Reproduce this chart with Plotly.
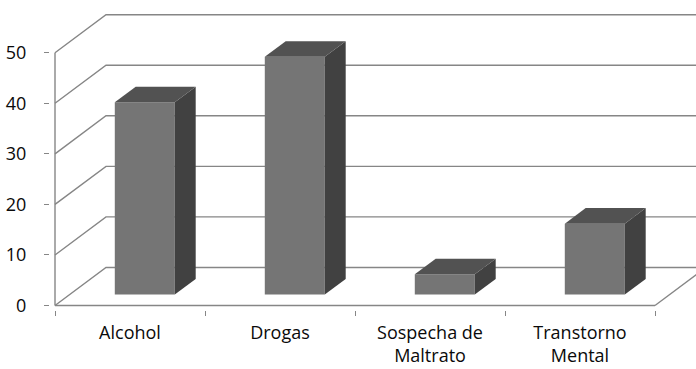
import plotly.graph_objects as go

# ---- data ----
categories = ["Alcohol", "Drogas", "Sospecha de<br>Maltrato", "Transtorno<br>Mental"]
values = [38, 47, 4, 14]
y_ticks = [0, 10, 20, 30, 40, 50]

# ---- style / geometry constants (oblique 3D look) ----
FRONT = "#757575"
TOP = "#525252"
SIDE = "#414141"
GRID = "#868686"
DU = 0.34       # full-depth x offset (category units)
DV = 7.52       # full-depth y offset (value units)
F0 = 0.29       # depth fraction of bar front face
FD = 0.41       # depth fraction of bar thickness
BW = 0.4        # bar width (category units)
YMAX = 50

n = len(categories)
x0, x1 = -5 / 150, -5 / 150 + 646 / 150
v0 = -(310 - 305.5) / 5.056
v1 = v0 + 302 / 5.056

fig = go.Figure()

def line(xs, ys, w=1.4, color=GRID):
    fig.add_trace(go.Scatter(x=xs, y=ys, mode="lines", line=dict(color=color, width=w),
                             hoverinfo="skip", showlegend=False))

# back wall gridlines and left wall diagonals (bottom subplot layer)
for t in y_ticks:
    line([0, DU, n + DU + 0.2], [t, t + DV, t + DV])
# floor front edge and right diagonal
line([0, n], [0, 0])
line([n, n + DU], [0, DV])
# front vertical axis
line([0, 0], [0, YMAX])

# bars on an overlaying subplot so they sit above the walls
b = F0 * DV
centers = [i + 0.5 + F0 * DU for i in range(n)]
ddu, ddv = FD * DU, FD * DV
for c, v in zip(centers, values):
    xl, xr = c - BW / 2, c + BW / 2
    fig.add_trace(go.Scatter(
        x=[xr, xr + ddu, xr + ddu, xr, xr],
        y=[b, b + ddv, b + v + ddv, b + v, b],
        mode="lines", fill="toself", fillcolor=SIDE, line=dict(width=0, color=SIDE),
        hoverinfo="skip", showlegend=False, xaxis="x2", yaxis="y2"))
    fig.add_trace(go.Scatter(
        x=[xl, xr, xr + ddu, xl + ddu, xl],
        y=[b + v, b + v, b + v + ddv, b + v + ddv, b + v],
        mode="lines", fill="toself", fillcolor=TOP, line=dict(width=0, color=TOP),
        hoverinfo="skip", showlegend=False, xaxis="x2", yaxis="y2"))

fig.add_trace(go.Bar(x=centers, y=values, base=[b] * n, width=BW,
                     marker=dict(color=FRONT, line=dict(width=0)), showlegend=False,
                     xaxis="x2", yaxis="y2"))

fig.update_layout(
    width=696, height=369,
    margin=dict(l=50, r=0, t=8, b=59),
    paper_bgcolor="white", plot_bgcolor="white",
    font=dict(family="Open Sans", size=19, color="#0a0a0a"),
    showlegend=False,
    xaxis=dict(range=[x0, x1], tickvals=[i + 0.5 for i in range(n)], ticktext=categories,
               ticks="", showgrid=False, zeroline=False, showline=False,
               ticklabelstandoff=10, automargin=False,
               tickfont=dict(size=18),
               minor=dict(tickvals=list(range(n + 1)), ticks="outside", ticklen=5,
                          tickcolor=GRID, tickwidth=1.4, showgrid=False)),
    yaxis=dict(range=[v0, v1], tickvals=y_ticks, ticks="outside", ticklen=5,
               tickcolor=GRID, tickwidth=1.4, showgrid=False, zeroline=False,
               showline=False, ticklabelstandoff=14, automargin=False,
               tickfont=dict(size=18)),
    xaxis2=dict(range=[x0, x1], overlaying="x", visible=False),
    yaxis2=dict(range=[v0, v1], overlaying="y", visible=False),
)

fig.write_html("out.html")
